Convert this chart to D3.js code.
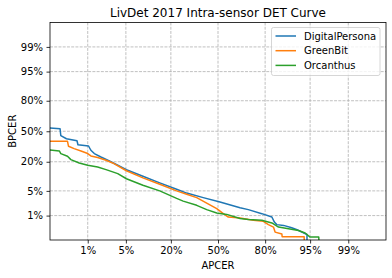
<!DOCTYPE html>
<html>
<head>
<meta charset="utf-8">
<script src="https://cdn.jsdelivr.net/npm/d3@7"></script>
<style>
  body { margin: 0; background: #fff; }
  svg { font-family: "DejaVu Sans", sans-serif; }
</style>
</head>
<body>
<svg id="chart"></svg>
<script>
const width = 392;
const height = 278;
const margin = {left: 50, right: 6, top: 22.5, bottom: 38};

const tickPcts = [1, 5, 20, 50, 80, 95, 99];
const tickLabels = ['1%', '5%', '20%', '50%', '80%', '95%', '99%'];

const seriesNames = ['DigitalPersona', 'GreenBit', 'Orcanthus'];
const seriesColors = ['#1f77b4', '#ff7f0e', '#2ca02c'];

// [APCER %, BPCER %]
const digitalPersona = [
  [0.1, 54.1], [0.24, 52.8], [0.25, 45.1], [0.34, 41.8], [0.59, 39.7], [0.62, 35.5],
  [1.04, 34.2], [1.16, 30.0], [1.36, 26.9], [1.83, 23.9], [2.62, 20.6], [3.67, 17.4],
  [5.1, 14.4], [9.0, 10.7], [14.9, 7.7], [23, 5.5], [28.8, 4.4], [39.6, 3.35],
  [51.4, 2.54], [65.3, 1.75], [70.6, 1.53], [78.3, 1.15], [83.2, 0.90], [84.3, 0.61],
  [85.3, 0.50], [87.9, 0.47], [90.6, 0.39], [92.1, 0.33], [93.3, 0.27], [94.4, 0.22],
  [94.4, 0.05]
];
const greenBit = [
  [0.1, 39.1], [0.36, 39.1], [0.38, 33.9], [0.51, 31.6], [0.72, 29.3], [1.0, 26.9],
  [1.16, 24.8], [1.58, 23.4], [2.28, 21.2], [3.0, 19.1], [5.1, 13.8], [9.0, 9.9],
  [14.9, 7.2], [23, 5.0], [28.8, 4.1], [35.2, 3.35], [42, 2.38], [49.1, 1.64],
  [53.8, 1.15], [57.3, 0.90], [65.3, 0.83], [73.6, 0.70], [79.1, 0.65], [81.6, 0.50],
  [83.9, 0.41], [84.6, 0.27], [87.3, 0.23], [87.4, 0.18], [93.8, 0.18], [93.9, 0.05]
];
const orcanthus = [
  [0.1, 30.7], [0.23, 29.3], [0.25, 26.9], [0.36, 24.5], [0.43, 21.7], [0.66, 19.1],
  [1.0, 17.4], [1.58, 16.2], [2.28, 14.5], [3.0, 13.1], [3.67, 12.1], [5.1, 9.5],
  [9.0, 6.8], [14.9, 5.0], [23, 3.2], [26.7, 2.7], [35.2, 2.05], [42, 1.53],
  [49.1, 1.2], [56.2, 1.09], [65.3, 0.81], [70.6, 0.75], [78.3, 0.70], [83.2, 0.57],
  [86.0, 0.41], [89.6, 0.36], [92.5, 0.31], [94.0, 0.25], [95.0, 0.175], [96.4, 0.175],
  [96.5, 0.05]
];
const seriesData = [digitalPersona, greenBit, orcanthus];

// inverse normal cdf (Acklam)
function probit(p) {
  const a = [-3.969683028665376e+01, 2.209460984245205e+02, -2.759285104469687e+02, 1.383577518672690e+02, -3.066479806614716e+01, 2.506628277459239e+00];
  const b = [-5.447609879822406e+01, 1.615858368580409e+02, -1.556989798598866e+02, 6.680131188771972e+01, -1.328068155288572e+01];
  const c = [-7.784894002430293e-03, -3.223964580411365e-01, -2.400758277161838e+00, -2.549732539343734e+00, 4.374664141464968e+00, 2.938163982698783e+00];
  const d = [7.784695709041462e-03, 3.224671290700398e-01, 2.445134137142996e+00, 3.754408661907416e+00];
  const plow = 0.02425;
  let q, r;
  if (p < plow) {
    q = Math.sqrt(-2 * Math.log(p));
    return (((((c[0]*q+c[1])*q+c[2])*q+c[3])*q+c[4])*q+c[5]) / ((((d[0]*q+d[1])*q+d[2])*q+d[3])*q+1);
  }
  if (p > 1 - plow) {
    q = Math.sqrt(-2 * Math.log(1 - p));
    return -(((((c[0]*q+c[1])*q+c[2])*q+c[3])*q+c[4])*q+c[5]) / ((((d[0]*q+d[1])*q+d[2])*q+d[3])*q+1);
  }
  q = p - 0.5;
  r = q * q;
  return (((((a[0]*r+a[1])*r+a[2])*r+a[3])*r+a[4])*r+a[5])*q / (((((b[0]*r+b[1])*r+b[2])*r+b[3])*r+b[4])*r+1);
}

const svg = d3.select('#chart').attr('width', width).attr('height', height);

const x = d3.scaleLinear().domain([-3, 3]).range([margin.left, width - margin.right]);
const y = d3.scaleLinear().domain([-3, 3]).range([height - margin.bottom, margin.top]);

const tickProbits = tickPcts.map(p => probit(p / 100));

svg.append('clipPath').attr('id', 'clip')
  .append('rect')
  .attr('x', margin.left).attr('y', margin.top)
  .attr('width', width - margin.left - margin.right)
  .attr('height', height - margin.top - margin.bottom);

// grid
const grid = svg.append('g').attr('stroke', '#b0b0b0').attr('stroke-width', 0.8).attr('stroke-dasharray', '2.96,1.28');
grid.selectAll('.gx').data(tickProbits).enter().append('line')
  .attr('x1', d => x(d)).attr('x2', d => x(d))
  .attr('y1', margin.top).attr('y2', height - margin.bottom);
grid.selectAll('.gy').data(tickProbits).enter().append('line')
  .attr('y1', d => y(d)).attr('y2', d => y(d))
  .attr('x1', margin.left).attr('x2', width - margin.right);

// curves
const line = d3.line()
  .x(d => x(probit(d[0] / 100)))
  .y(d => y(probit(d[1] / 100)));

svg.append('g').attr('clip-path', 'url(#clip)')
  .selectAll('path').data(seriesData).enter().append('path')
  .attr('d', line)
  .attr('fill', 'none')
  .attr('stroke', (d, i) => seriesColors[i])
  .attr('stroke-width', 1.5)
  .attr('stroke-linejoin', 'round');

// axes
const xAxis = svg.append('g')
  .attr('transform', `translate(0, ${height - margin.bottom})`)
  .call(d3.axisBottom(x).tickValues(tickProbits).tickFormat((d, i) => tickLabels[i]).tickSizeOuter(0).tickSize(3.5).tickPadding(3.5));
const yAxis = svg.append('g')
  .attr('transform', `translate(${margin.left}, 0)`)
  .call(d3.axisLeft(y).tickValues(tickProbits).tickFormat((d, i) => tickLabels[i]).tickSizeOuter(0).tickSize(3.5).tickPadding(3.5));

[xAxis, yAxis].forEach(a => {
  a.select('.domain').remove();
  a.selectAll('line').attr('stroke', '#000').attr('stroke-width', 0.8);
  a.selectAll('text').attr('font-size', 10).attr('fill', '#000').attr('font-family', '"DejaVu Sans", sans-serif');
});

// frame
svg.append('rect')
  .attr('x', margin.left).attr('y', margin.top)
  .attr('width', width - margin.left - margin.right)
  .attr('height', height - margin.top - margin.bottom)
  .attr('fill', 'none').attr('stroke', '#000').attr('stroke-width', 0.8);

// labels
const cx = (margin.left + width - margin.right) / 2;
svg.append('text').attr('x', cx).attr('y', 16.5)
  .attr('text-anchor', 'middle').attr('font-size', 12)
  .text('LivDet 2017 Intra-sensor DET Curve');
svg.append('text').attr('x', cx).attr('y', 269)
  .attr('text-anchor', 'middle').attr('font-size', 10)
  .text('APCER');
svg.append('text')
  .attr('transform', `translate(15.5, ${(margin.top + height - margin.bottom) / 2}) rotate(-90)`)
  .attr('text-anchor', 'middle').attr('font-size', 10)
  .text('BPCER');

// legend
const legend = svg.append('g').attr('transform', 'translate(271.5, 27.5)');
legend.append('rect')
  .attr('width', 108.5).attr('height', 48).attr('rx', 2)
  .attr('fill', '#fff').attr('fill-opacity', 0.8)
  .attr('stroke', '#cccccc').attr('stroke-width', 0.8);
const items = legend.selectAll('.item').data(seriesNames).enter().append('g')
  .attr('transform', (d, i) => `translate(0, ${8.5 + i * 14.7})`);
items.append('line')
  .attr('x1', 4).attr('x2', 24.5)
  .attr('stroke', (d, i) => seriesColors[i]).attr('stroke-width', 1.5);
items.append('text')
  .attr('x', 32.5).attr('dy', '0.35em').attr('font-size', 10)
  .text(d => d);
</script>
</body>
</html>
